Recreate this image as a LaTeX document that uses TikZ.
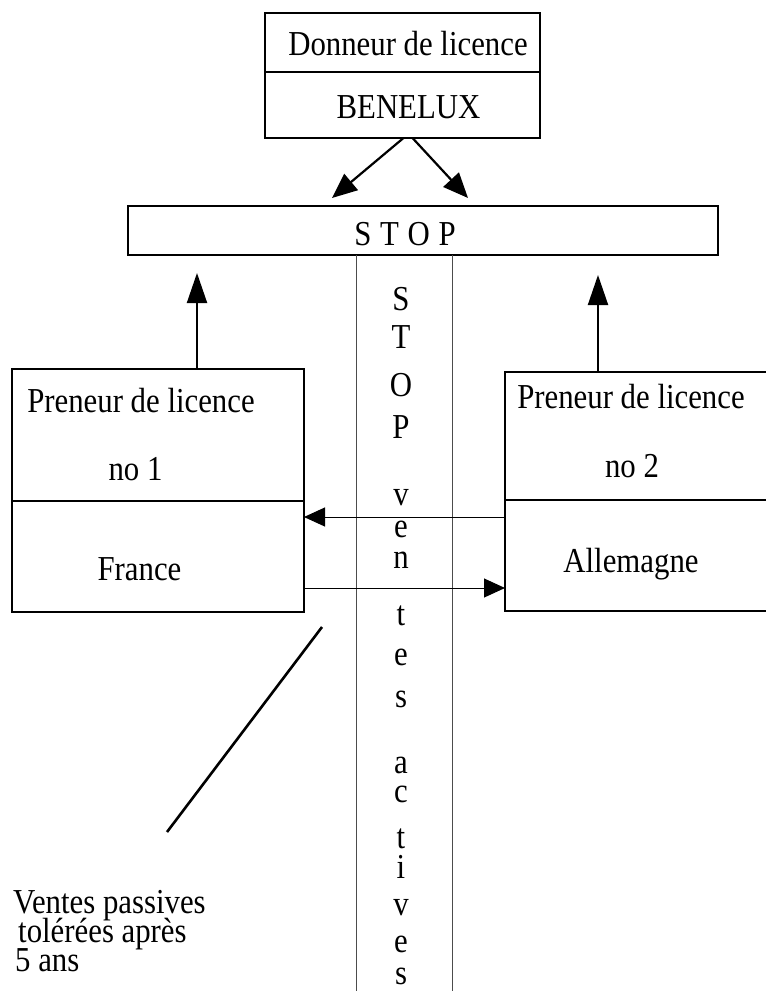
\documentclass[tikz,border=0pt]{standalone}
\usepackage{fontspec}
\setmainfont{Liberation Serif}[FakeStretch=0.88]
\usetikzlibrary{arrows.meta,calc}
\begin{document}
\begin{tikzpicture}[x=1pt,y=-1pt,
  box/.style={draw, line width=2pt, inner sep=0pt, outer sep=0pt, anchor=north west},
  lbl/.style={inner sep=0pt, anchor=base, font=\fontsize{35}{40}\selectfont},
  lbll/.style={lbl, anchor=base west},
  bigtip/.style={line width=2.2pt, -{Triangle[length=25pt,width=21pt]}},
  uptip/.style={line width=2pt, -{Triangle[length=30pt,width=20pt]}},
  thintip/.style={line width=1pt, -{Triangle[length=21pt,width=19pt]}},
  colline/.style={line width=1pt, black!70},
  slash/.style={line width=2.6pt}
]
\useasboundingbox (0,0) rectangle (766,991);
\fill[white] (0,0) rectangle (766,991);

% Donneur de licence
\node[box, minimum width=275pt, minimum height=59pt] (dtop) at (265,13) {};
\node[box, minimum width=275pt, minimum height=66pt] (dbot) at (265,72) {};
\node[lbl] (dtxt) at (408,55) {Donneur de licence};
\node[lbl] (btxt) at (408.5,118) {BENELUX};

% STOP bar
\node[box, minimum width=590pt, minimum height=49pt] (stop) at (128,206) {};
\node[lbl] (stoptxt) at (405,245) {S\kern1pt{} T\kern1pt{} O\kern1pt{} P};

% Preneur no 1
\node[box, minimum width=292pt, minimum height=132pt] (p1top) at (12,369) {};
\node[box, minimum width=292pt, minimum height=111pt] (p1bot) at (12,501) {};
\node[lbl] (p1a) at (141,412) {Preneur de licence};
\node[lbl] (p1b) at (135.5,480) {no 1};
\node[lbl] (p1c) at (139.5,580) {France};

% Preneur no 2
\node[box, minimum width=267pt, minimum height=128pt] (p2top) at (505,372) {};
\node[box, minimum width=267pt, minimum height=111pt] (p2bot) at (505,500) {};
\node[lbl] (p2a) at (631,408) {Preneur de licence};
\node[lbl] (p2b) at (632,477) {no 2};
\node[lbl] (p2c) at (631,572) {Allemagne};

% vertical column
\coordinate (cl1) at (356,991);
\coordinate (cl2) at (452,991);
\draw[colline] (stop.south -| cl1) -- (cl1);
\draw[colline] (stop.south -| cl2) -- (cl2);
\foreach \c/\y [count=\i] in {S/310,T/348,O/396,P/438,v/505,e/537,n/568,t/625,e/665,s/707,a/773,c/802,t/848,i/878,v/915,e/952,s/984}
  \node[lbl] (col\i) at (401,\y) {\c};

% arrows from Donneur to STOP
\coordinate (d1) at (332,198);
\coordinate (d2) at (468,198);
\draw[bigtip] ([xshift=1pt]dbot.south) -- (d1);
\draw[bigtip] ([xshift=10pt]dbot.south) -- (d2);

% arrows from Preneurs up to STOP
\coordinate (u1) at (197,273);
\coordinate (u2) at (598,275);
\draw[uptip] ([xshift=185pt]p1top.north west) -- (u1);
\draw[uptip] ([xshift=93pt]p2top.north west) -- (u2);

% arrows between Preneurs
\draw[thintip] ([yshift=-17pt]p2bot.north west) -- ([yshift=-16pt]p1bot.north east);
\draw[thintip] ([yshift=-87pt]p1bot.north east) -- ([yshift=-88pt]p2bot.north west);

% diagonal line and note
\coordinate (s1) at (322,627);
\coordinate (s2) at (167,832);
\draw[slash] (s1) -- (s2);
\node[lbll] (n1) at (13,913) {Ventes passives};
\node[lbll] (n2) at (18,942) {tolérées après};
\node[lbll] (n3) at (15,971) {5 ans};
\end{tikzpicture}
\end{document}
